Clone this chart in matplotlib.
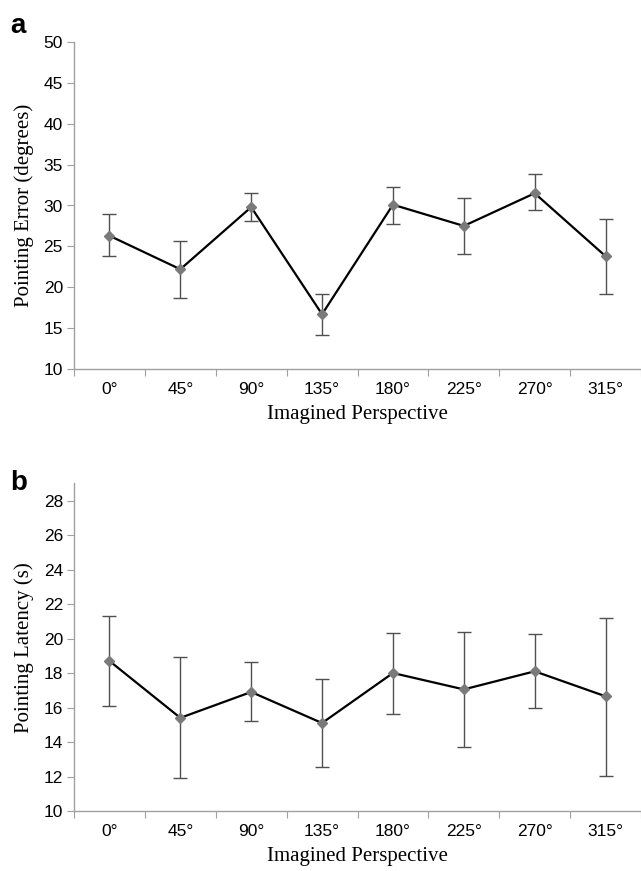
import numpy as np
import matplotlib
matplotlib.use("Agg")
import matplotlib.pyplot as plt

# perspectives on the x axis
perspectives = ['0°', '45°', '90°', '135°', '180°', '225°', '270°', '315°']

# panel a: pointing error (degrees), mean with upper/lower bar ends
err_mean = [26.3, 22.2, 29.8, 16.7, 30.1, 27.5, 31.5, 23.8]
err_hi = [28.9, 25.6, 31.5, 19.2, 32.3, 30.9, 33.8, 28.4]
err_lo = [23.8, 18.7, 28.1, 14.1, 27.7, 24.1, 29.4, 19.2]

# panel b: pointing latency (s)
lat_mean = [18.7, 15.4, 16.9, 15.1, 18.0, 17.05, 18.1, 16.65]
lat_hi = [21.3, 18.9, 18.65, 17.65, 20.3, 20.4, 20.25, 21.2]
lat_lo = [16.1, 11.9, 15.2, 12.55, 15.65, 13.7, 15.95, 12.05]

AXIS_GREY = '#a0a0a0'
SANS = ['Liberation Sans', 'DejaVu Sans']
SERIF = ['Liberation Serif', 'DejaVu Serif']


def draw_panel(ax, mean, hi, lo, ylim, yticks, ylabel):
    x = np.arange(len(perspectives))
    mean = np.array(mean)
    yerr = [mean - np.array(lo), np.array(hi) - mean]
    ax.errorbar(x, mean, yerr=yerr, fmt='none', ecolor='#505050',
                elinewidth=1.0, capsize=5, capthick=1.0, zorder=2)
    ax.plot(x, mean, color='black', lw=1.6, zorder=3)
    ax.plot(x, mean, ls='none', marker='D', ms=5.5, color='#7a7a7a',
            mec='#7a7a7a', zorder=4)

    ax.set_xlim(-0.5, len(perspectives) - 0.5)
    ax.set_ylim(*ylim)
    ax.set_yticks(yticks)
    # tick marks sit between categories, labels at the centres
    ax.set_xticks(np.arange(-0.5, len(perspectives) + 0.5, 1.0))
    ax.set_xticklabels([])
    ax.set_xticks(x, minor=True)
    ax.set_xticklabels(perspectives, minor=True, family=SANS, fontsize=12.5)
    ax.tick_params(axis='x', which='minor', length=0, pad=9)
    ax.tick_params(axis='x', which='major', length=5, color=AXIS_GREY)
    ax.tick_params(axis='y', length=5, color=AXIS_GREY, pad=3)
    for lab in ax.get_yticklabels():
        lab.set_family(SANS)
        lab.set_fontsize(12.5)

    for s in ['top', 'right']:
        ax.spines[s].set_visible(False)
    for s in ['left', 'bottom']:
        ax.spines[s].set_color(AXIS_GREY)
        ax.spines[s].set_linewidth(1.0)

    ax.set_ylabel(ylabel, family=SERIF, fontsize=15, labelpad=7)
    ax.set_xlabel('Imagined Perspective', family=SERIF, fontsize=15,
                  labelpad=6)


fig = plt.figure(figsize=(6.41, 8.71), dpi=100)
ax_a = fig.add_axes([74 / 641, 1 - 369 / 871, 567 / 641, 327 / 871])
ax_b = fig.add_axes([74 / 641, 1 - 811 / 871, 567 / 641, 327.7 / 871])

draw_panel(ax_a, err_mean, err_hi, err_lo, (10, 50), np.arange(10, 51, 5),
           'Pointing Error (degrees)')
draw_panel(ax_b, lat_mean, lat_hi, lat_lo, (10, 29), np.arange(10, 29, 2),
           'Pointing Latency (s)')

# panel letters
fig.text(10 / 641, 1 - 33 / 871, 'a', family=SANS, fontsize=20,
         fontweight='bold', ha='left', va='baseline')
fig.text(10 / 641, 1 - 490 / 871, 'b', family=SANS, fontsize=20,
         fontweight='bold', ha='left', va='baseline')

fig.savefig('out.png', dpi=100)
